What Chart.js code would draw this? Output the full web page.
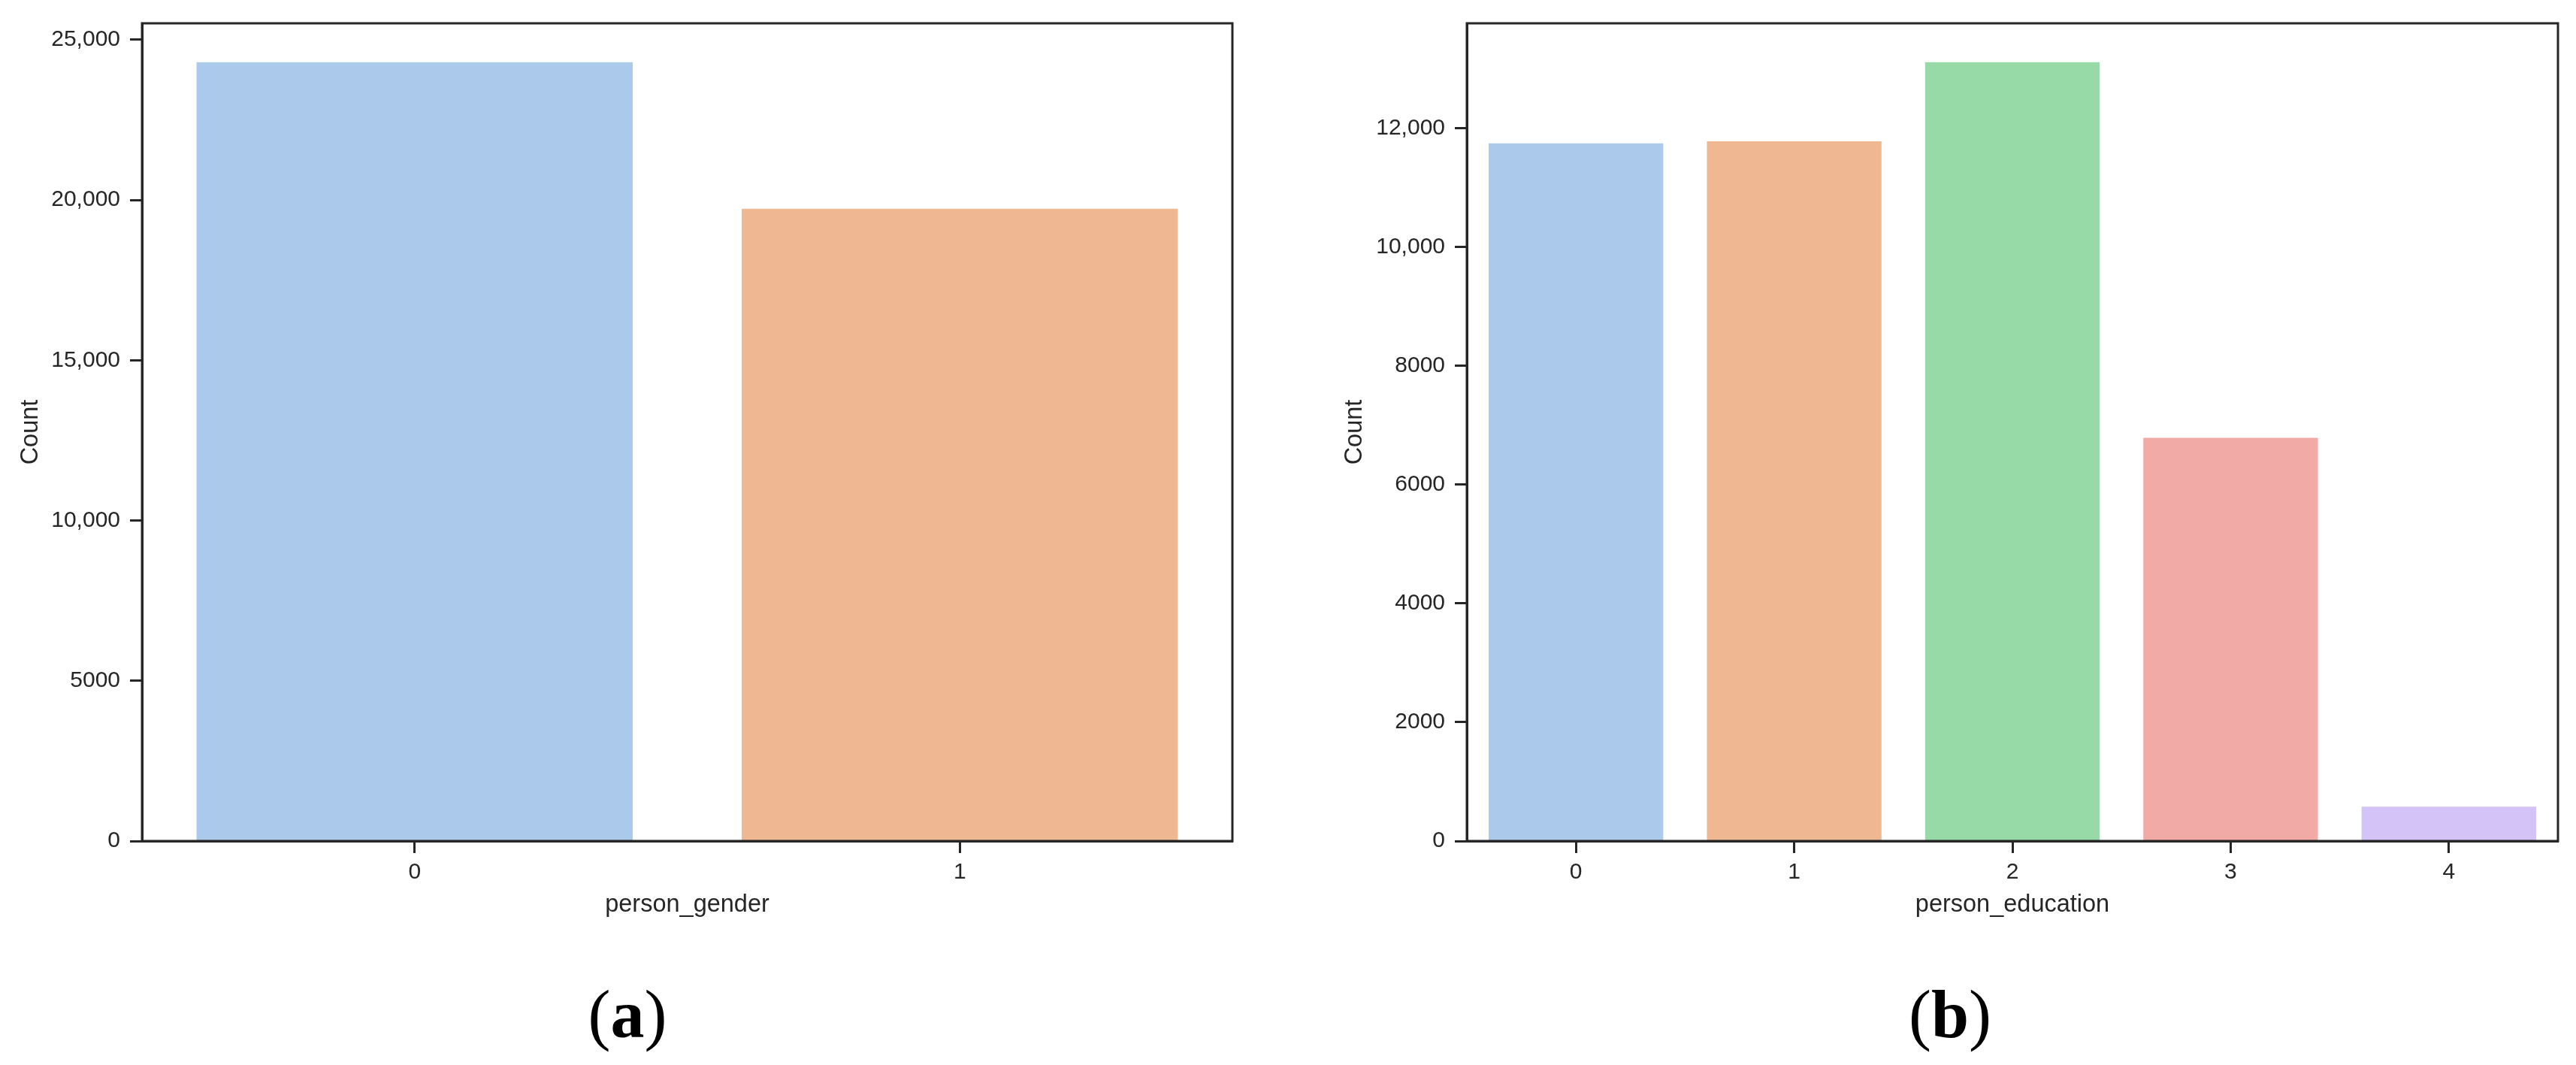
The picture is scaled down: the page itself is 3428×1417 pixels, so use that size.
<!DOCTYPE html>
<html>
<head>
<meta charset="utf-8">
<script src="https://cdn.jsdelivr.net/npm/chart.js@4.4.1/dist/chart.umd.min.js"></script>
<style>
  html, body { margin: 0; padding: 0; background: #ffffff; }
  body { width: 3428px; height: 1417px; position: relative; overflow: hidden; }
  canvas { position: absolute; top: 0; }
  #chartA { left: 0; }
  #chartB { left: 1714px; }
  .panel-label {
    position: absolute;
    top: 1305px;
    width: 400px;
    text-align: center;
    font-family: "Liberation Serif", "DejaVu Serif", serif;
    font-size: 90px;
    line-height: 90px;
    color: #000;
  }
  .panel-label b { font-weight: bold; }
</style>
</head>
<body>
<canvas id="chartA" width="1680" height="1260"></canvas>
<canvas id="chartB" width="1714" height="1260"></canvas>
<div class="panel-label" style="left:635px">(<b>a</b>)</div>
<div class="panel-label" style="left:2395px">(<b>b</b>)</div>

<script>
// panel (a): person_gender counts
const genderLabels = ['0', '1'];
const genderCounts = [24300, 19730];
const genderTicks = [0, 5000, 10000, 15000, 20000, 25000];

// panel (b): person_education counts
const educationLabels = ['0', '1', '2', '3', '4'];
const educationCounts = [11750, 11785, 13115, 6790, 580];
const educationTicks = [0, 2000, 4000, 6000, 8000, 10000, 12000];

// seaborn pastel, desaturated to 0.75 like barplot does
const pastel = ['#abc9ea', '#efb792', '#98daa7', '#f2aaa7', '#d3c3f6'];

const INK = '#262626';
const TICK_FONT = { family: '"Liberation Sans", Arial, sans-serif', size: 30 };
const TITLE_FONT = { family: '"Liberation Sans", Arial, sans-serif', size: 32.5 };

function formatCount(v) {
    return v >= 10000 ? v.toLocaleString('en-US') : String(v);
}

// closes the box: top and right spines
const frameBox = {
    id: 'frameBox',
    afterDraw(chart) {
        const { ctx, chartArea: a } = chart;
        ctx.save();
        ctx.strokeStyle = INK;
        ctx.lineWidth = 3;
        ctx.strokeRect(a.left, a.top, a.right - a.left, a.bottom - a.top);
        ctx.restore();
    }
};

function makeBarChart(canvasId, labels, counts, ticks, xTitle, box) {
    const ctx = document.getElementById(canvasId).getContext('2d');
    return new Chart(ctx, {
        type: 'bar',
        data: {
            labels: labels,
            datasets: [{
                data: counts,
                backgroundColor: pastel.slice(0, counts.length),
                borderWidth: 0,
                barPercentage: 0.8,
                categoryPercentage: 1.0
            }]
        },
        options: {
            responsive: false,
            maintainAspectRatio: false,
            animation: false,
            devicePixelRatio: 1,
            layout: { padding: { top: box.top, right: box.right, left: 0, bottom: 0 } },
            plugins: {
                legend: { display: false },
                tooltip: { enabled: false }
            },
            scales: {
                x: {
                    offset: true,
                    grid: {
                        offset: false,
                        drawOnChartArea: false,
                        drawTicks: true,
                        tickLength: 16,
                        tickWidth: 3,
                        tickColor: INK
                    },
                    border: { display: true, color: INK, width: 3 },
                    ticks: { color: INK, font: TICK_FONT, padding: 8, maxRotation: 0 },
                    title: {
                        display: true,
                        text: xTitle,
                        color: INK,
                        font: TITLE_FONT,
                        padding: { top: 0, bottom: box.xTitlePad }
                    },
                    afterFit: scale => { scale.height = box.xHeight; }
                },
                y: {
                    min: 0,
                    max: Math.max(...counts) * 1.05,
                    grid: {
                        drawOnChartArea: false,
                        drawTicks: true,
                        tickLength: 16,
                        tickWidth: 3,
                        tickColor: INK
                    },
                    border: { display: true, color: INK, width: 3 },
                    ticks: {
                        color: INK,
                        font: TICK_FONT,
                        padding: 13,
                        callback: v => formatCount(v)
                    },
                    afterBuildTicks: scale => {
                        scale.ticks = ticks.map(v => ({ value: v }));
                    },
                    title: {
                        display: true,
                        text: 'Count',
                        color: INK,
                        font: TITLE_FONT,
                        padding: { top: box.yTitlePad, bottom: 0 }
                    },
                    afterFit: scale => { scale.width = box.yWidth; }
                }
            }
        },
        plugins: [frameBox]
    });
}

makeBarChart('chartA', genderLabels, genderCounts, genderTicks, 'person_gender',
    { top: 28, right: 40, yWidth: 189, xHeight: 141, yTitlePad: 22, xTitlePad: 36 });

makeBarChart('chartB', educationLabels, educationCounts, educationTicks, 'person_education',
    { top: 29, right: 24, yWidth: 238, xHeight: 141, yTitlePad: 70, xTitlePad: 36 });
</script>
</body>
</html>
